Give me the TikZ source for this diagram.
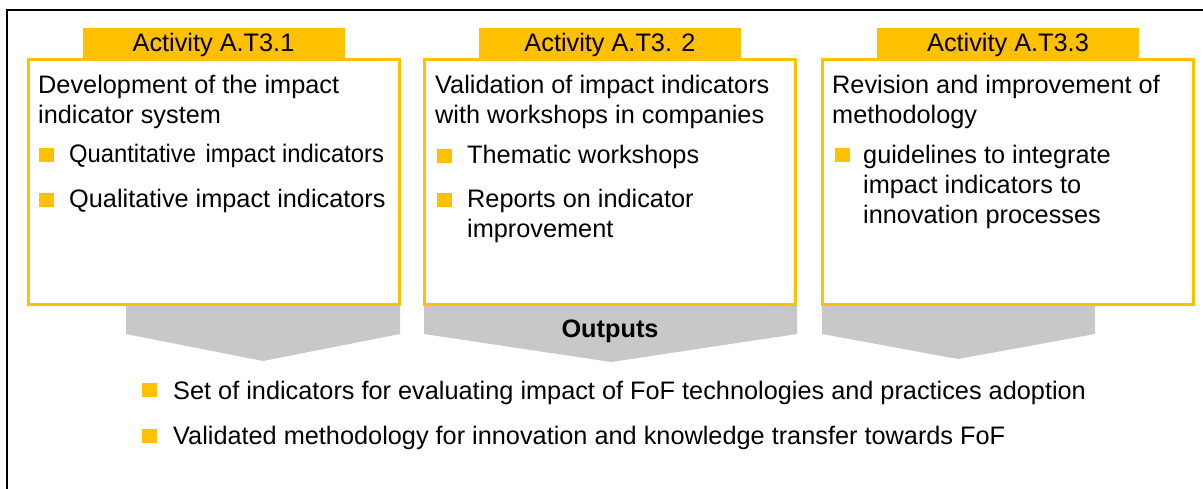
\documentclass[tikz,border=0pt]{standalone}
\usepackage{fontspec}
\setmainfont{Liberation Sans}
\definecolor{actyellow}{HTML}{FFC000}
\definecolor{outgray}{HTML}{C8C8C8}
\newcommand{\bodyfont}{\fontsize{25.3}{30}\selectfont}
\tikzset{
  actbox/.style={draw=actyellow, line width=3pt, fill=white, minimum width=371pt, minimum height=245pt, inner sep=0pt},
  tab/.style={fill=actyellow, minimum width=262pt, minimum height=30pt, inner sep=0pt, text height=19pt, text depth=1pt, font=\bodyfont},
  txt/.style={anchor=base west, inner sep=0pt, align=left, font=\bodyfont},
  sq/.style={fill=actyellow, minimum width=15pt, minimum height=14pt, inner sep=0pt},
  chevron/.style={fill=outgray},
}
\begin{document}
\begin{tikzpicture}[x=1pt,y=-1pt]
\useasboundingbox (0,0) rectangle (1203,488);
\clip (0,0) rectangle (1203,488);
\draw [line width=2.5pt] (7,10) rectangle (1215,500);

\fill[chevron] (126,305) -- (400,305) -- (400,334) -- (263,361) -- (126,334) -- cycle;
\fill[chevron] (424,305) -- (797,305) -- (797,334) -- (611,362) -- (424,334) -- cycle;
\fill[chevron] (822,305) -- (1095,305) -- (1095,334) -- (958,359) -- (822,334) -- cycle;
\node [font=\bodyfont\bfseries] (outputs) at (610,331) {Outputs};

\node [actbox] (box1) at (213.5,182) {};
\node [actbox] (box2) at (610,182) {};
\node [actbox] (box3) at (1008,182) {};
\node [tab, anchor=south] (tab1) at (box1.north) {Activity A.T3.1};
\node [tab, anchor=south] (tab2) at (box2.north) {Activity A.T3. 2};
\node [tab, anchor=south] (tab3) at (box3.north) {Activity A.T3.3};

% multi-line nodes sit on the baseline of their last line
\node [txt] (head1) at (38,123) {Development of the impact\\indicator system};
\node [sq] (q11) at (46,154.5) {};
\node [txt] (item11) at (69,162) {\scalebox{0.94}[1]{Quantitative\hspace{3pt} impact indicators}};
\node [sq] (q12) at (46,199.5) {};
\node [txt] (item12) at (69,207) {Qualitative impact indicators};

\node [txt] (head2) at (435,123) {Validation of impact indicators\\with workshops in companies};
\node [sq] (q21) at (444.5,155.5) {};
\node [txt] (item21) at (467,163) {Thematic workshops};
\node [sq] (q22) at (444.5,199.5) {};
\node [txt] (item22) at (467,237) {Reports on indicator\\improvement};

\node [txt] (head3) at (832,123) {Revision and improvement of\\methodology};
\node [sq] (q31) at (842,155) {};
\node [txt] (item31) at (863,223) {guidelines to integrate\\impact indicators to\\innovation processes};

\node [sq] (r1) at (149.5,390) {};
\node [txt] (res1) at (173,399) {Set of indicators for evaluating impact of FoF technologies and practices adoption};
\node [sq] (r2) at (149.5,435.5) {};
\node [txt] (res2) at (173,444) {Validated methodology for innovation and knowledge transfer towards FoF};
\end{tikzpicture}
\end{document}
